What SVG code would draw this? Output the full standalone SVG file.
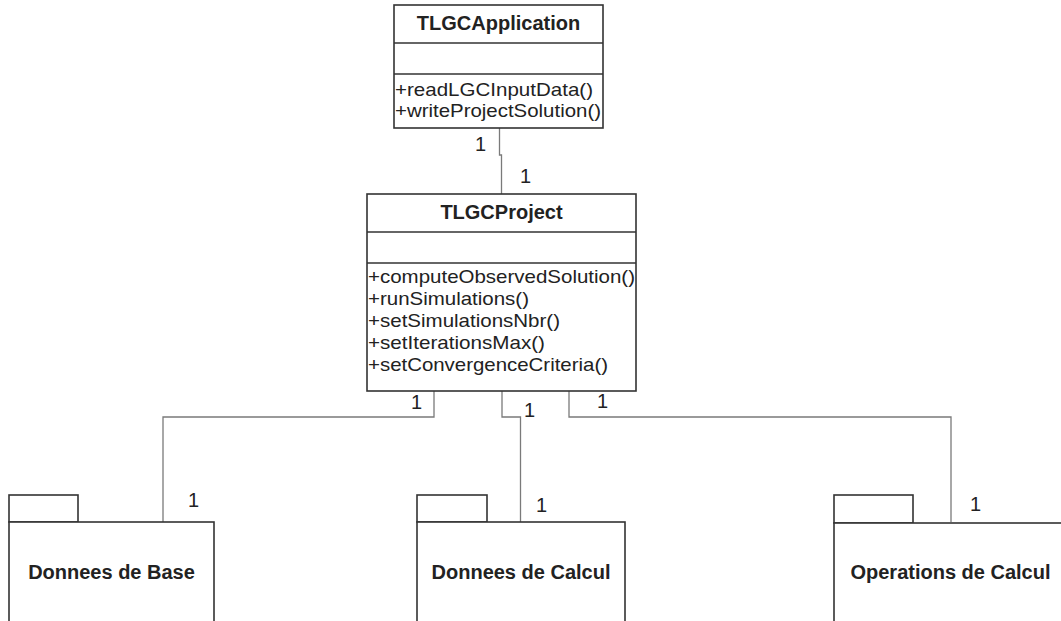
<svg xmlns="http://www.w3.org/2000/svg" width="1061" height="621" viewBox="0 0 1061 621">
<style>
.box{fill:#fff;stroke:#333;stroke-width:1.6}
.div{stroke:#333;stroke-width:1.6}
.conn{fill:none;stroke:#7a7a7a;stroke-width:1.3}
.title{font-family:"Liberation Sans",Arial,sans-serif;font-weight:bold;font-size:20px;fill:#222;text-anchor:middle}
.mem{font-family:"Liberation Sans",Arial,sans-serif;font-size:18.5px;fill:#222}
.mult{font-family:"Liberation Sans",Arial,sans-serif;font-size:20px;fill:#222}
</style>
<rect width="1061" height="621" fill="#fff"/>
<g id="connectors">
<polyline class="conn" points="499.5,128 499.5,155 501.5,155 501.5,194"/>
<polyline class="conn" points="434,391 434,417 163,417 163,522"/>
<polyline class="conn" points="502,391 502,417 520.5,417 520.5,522"/>
<polyline class="conn" points="569,391 569,417 951,417 951,522"/>
<text class="mult" x="475" y="151">1</text>
<text class="mult" x="520" y="183">1</text>
<text class="mult" x="411" y="409">1</text>
<text class="mult" x="524" y="417">1</text>
<text class="mult" x="597" y="408">1</text>
<text class="mult" x="188" y="507">1</text>
<text class="mult" x="536" y="512">1</text>
<text class="mult" x="970" y="511">1</text>
</g>
<g id="TLGCApplication">
<rect class="box" x="394" y="5" width="209" height="123"/>
<line class="div" x1="394" y1="43" x2="603" y2="43"/>
<line class="div" x1="394" y1="74" x2="603" y2="74"/>
<text class="title" x="498.5" y="30">TLGCApplication</text>
<text class="mem" x="395" y="96" textLength="198" lengthAdjust="spacingAndGlyphs">+readLGCInputData()</text>
<text class="mem" x="395" y="117" textLength="206" lengthAdjust="spacingAndGlyphs">+writeProjectSolution()</text>
</g>
<g id="TLGCProject">
<rect class="box" x="367" y="194" width="269" height="197"/>
<line class="div" x1="367" y1="232" x2="636" y2="232"/>
<line class="div" x1="367" y1="263" x2="636" y2="263"/>
<text class="title" x="501.5" y="219">TLGCProject</text>
<text class="mem" x="368" y="283" textLength="267" lengthAdjust="spacingAndGlyphs">+computeObservedSolution()</text>
<text class="mem" x="368" y="305" textLength="161" lengthAdjust="spacingAndGlyphs">+runSimulations()</text>
<text class="mem" x="368" y="327" textLength="192" lengthAdjust="spacingAndGlyphs">+setSimulationsNbr()</text>
<text class="mem" x="368" y="349" textLength="177" lengthAdjust="spacingAndGlyphs">+setIterationsMax()</text>
<text class="mem" x="368" y="371" textLength="240" lengthAdjust="spacingAndGlyphs">+setConvergenceCriteria()</text>
</g>
<g id="DonneesDeBase">
<rect class="box" x="9" y="495" width="69" height="27"/>
<rect class="box" x="9" y="522" width="205" height="120"/>
<text class="title" x="111.5" y="579">Donnees de Base</text>
</g>
<g id="DonneesDeCalcul">
<rect class="box" x="417" y="495" width="70" height="27"/>
<rect class="box" x="417" y="522" width="208" height="120"/>
<text class="title" x="521" y="579">Donnees de Calcul</text>
</g>
<g id="OperationsDeCalcul">
<rect class="box" x="834" y="495" width="79" height="28"/>
<rect class="box" x="834" y="523" width="233" height="120"/>
<text class="title" x="950.5" y="579">Operations de Calcul</text>
</g>
</svg>
